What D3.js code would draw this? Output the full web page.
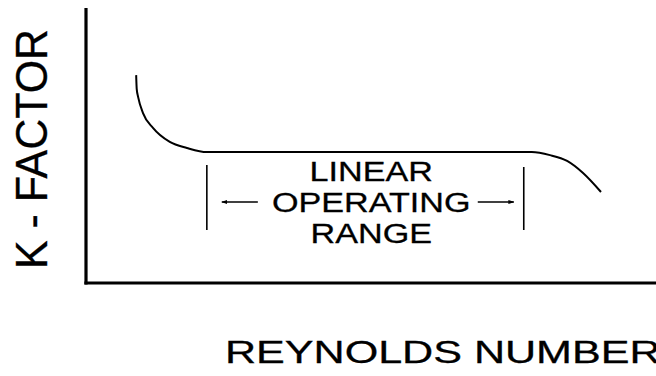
<!DOCTYPE html>
<html><head><meta charset="utf-8">
<script src="https://cdn.jsdelivr.net/npm/d3@7"></script>
<style>html,body{margin:0;padding:0;background:#fff;}svg{display:block;}</style>
</head><body>
<svg id="c" width="656" height="376"></svg>
<script>
// Schematic K-factor vs Reynolds number (arbitrary units 0-100)
const reynolds = [8.8, 8.9, 9.15, 10.0, 11.75, 14.7, 17.7, 21.2, 78.2, 81.4, 84.4, 87.2, 90.35];
const kFactor  = [75.6, 70.5, 67.6, 61.8, 56.4, 51.3, 49.1, 47.6, 47.6, 46.5, 44.4, 40.0, 33.1];
const rangeBounds = [21.2, 76.8];
const rangeLabel = ["LINEAR", "OPERATING", "RANGE"];
const xTitle = "REYNOLDS NUMBER";
const yTitle = "K - FACTOR";

const svg = d3.select("#c");
const x = d3.scaleLinear().domain([0, 100]).range([86, 656]);
const y = d3.scaleLinear().domain([0, 100]).range([283, 8]);
const font = "'Liberation Sans', Arial, sans-serif";

// axes (plain lines, no ticks)
svg.append("line").attr("x1", x(0)).attr("x2", x(0)).attr("y1", y(100)).attr("y2", y(0) + 1.5)
  .attr("stroke", "#000").attr("stroke-width", 3.2);
svg.append("line").attr("x1", x(0) - 1.6).attr("x2", x(100)).attr("y1", y(0)).attr("y2", y(0))
  .attr("stroke", "#000").attr("stroke-width", 3.2);

// curve
const pts = reynolds.map((r, i) => [r, kFactor[i]]);
svg.append("path").datum(pts)
  .attr("d", d3.line().x(d => x(d[0])).y(d => y(d[1])).curve(d3.curveMonotoneX))
  .attr("fill", "none").attr("stroke", "#000").attr("stroke-width", 2);

// range markers
const yTop = [165, 167];
rangeBounds.forEach((b, i) => {
  svg.append("line").attr("x1", x(b)).attr("x2", x(b)).attr("y1", yTop[i]).attr("y2", 230)
    .attr("stroke", "#000").attr("stroke-width", 1.6);
});

// arrows
const defs = svg.append("defs");
defs.append("marker").attr("id", "ah").attr("viewBox", "0 0 10 10").attr("refX", 9).attr("refY", 5)
  .attr("markerWidth", 6).attr("markerHeight", 6).attr("markerUnits", "userSpaceOnUse").attr("orient", "auto")
  .append("path").attr("d", "M0,1.5 L10,5 L0,8.5 Z").attr("fill", "#000");
const xl = x(rangeBounds[0]), xr = x(rangeBounds[1]);
svg.append("line").attr("x1", xl + 51).attr("x2", xl + 15).attr("y1", 202).attr("y2", 202)
  .attr("stroke", "#000").attr("stroke-width", 1.3).attr("marker-end", "url(#ah)");
svg.append("line").attr("x1", xr - 46).attr("x2", xr - 10).attr("y1", 202).attr("y2", 202)
  .attr("stroke", "#000").attr("stroke-width", 1.3).attr("marker-end", "url(#ah)");

// range label
const cx = (xl + xr) / 2 + 6;
const baselines = [181, 212, 243];
rangeLabel.forEach((t, i) => {
  svg.append("text").attr("transform", `translate(${cx},${baselines[i]}) scale(1.22,1)`)
    .attr("text-anchor", "middle").attr("font-family", font).attr("font-size", 28)
    .attr("fill", "#000").attr("stroke", "#000").attr("stroke-width", 0.3).text(t);
});

// axis titles
svg.append("text").attr("transform", "translate(225,363) scale(1.39,1)")
  .attr("font-family", font).attr("font-size", 31).attr("fill", "#000")
  .attr("stroke", "#000").attr("stroke-width", 0.3).text(xTitle);
svg.append("text").attr("transform", "translate(47,149) rotate(-90) scale(1.01,1.06)")
  .attr("text-anchor", "middle").attr("font-family", font).attr("font-size", 42.5)
  .attr("fill", "#000").attr("stroke", "#000").attr("stroke-width", 0.3).text(yTitle);
</script>
</body></html>
